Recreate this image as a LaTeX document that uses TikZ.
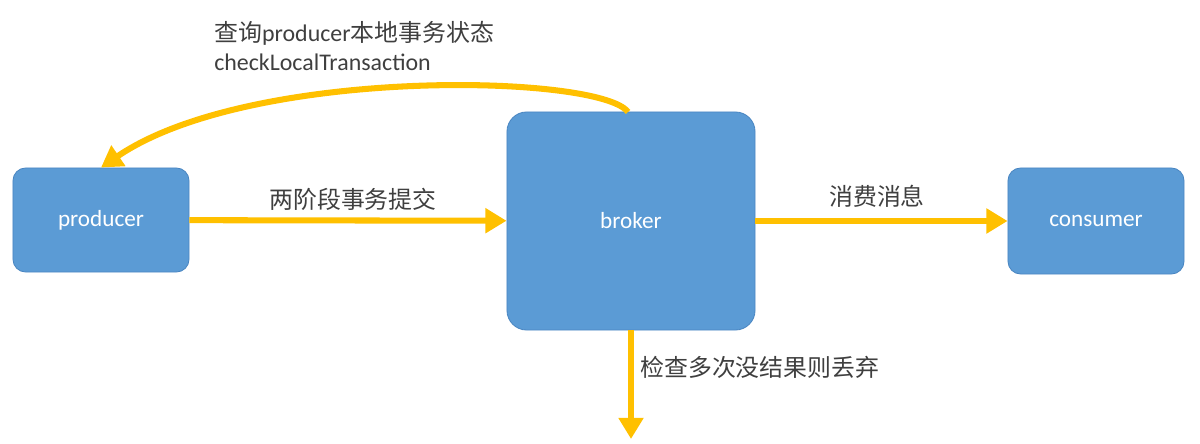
\documentclass[tikz,border=0pt]{standalone}
\usepackage{fontspec}
\setmainfont{Carlito}
\newfontfamily\cjk{Noto Sans CJK SC}
\usetikzlibrary{arrows.meta,positioning}

\definecolor{boxblue}{HTML}{5B9BD5}
\definecolor{boxedge}{HTML}{4A86C2}
\definecolor{flowyellow}{HTML}{FFC000}
\definecolor{labelgray}{HTML}{3F3F3F}

\begin{document}
\begin{tikzpicture}[x=0.025cm, y=-0.025cm,
    box/.style={draw=boxedge, line width=0.6pt, fill=boxblue, rounded corners=9pt,
      text=white, font=\fontsize{16.5}{19}\selectfont},
    flow/.style={flowyellow, line width=4.3pt,
      -{Triangle[length=15pt, width=17pt]}},
    lbl/.style={text=labelgray, font=\fontsize{17}{20}\selectfont, inner sep=0pt}]
    \useasboundingbox (0,0) rectangle (1200,444);

    % Boxes
    \node[box, minimum width=4.4cm, minimum height=2.6cm] (producer) at (101,220) {producer};
    \node[box, minimum width=6.2cm, minimum height=5.45cm, rounded corners=14pt] (broker) at (631,221) {broker};
    \node[box, minimum width=4.4cm, minimum height=2.65cm] (consumer) at (1096,221) {consumer};
    \coordinate (drop) at (631,439);
    \coordinate (brokertop) at (628,112);

    % Connectors
    \draw[flow] (producer) -- (broker);
    \draw[flow] (broker) -- (consumer);
    \draw[flow] (broker.south) -- (drop);
    \draw[flow] (brokertop) .. controls (600,74) and (250,66) .. (producer.north);

    % Labels
    \node[lbl] (commit) at (353,199) {\cjk 两阶段事务提交};
    \node[lbl] (consume) at (877,196) {\cjk 消费消息};
    \node[lbl, anchor=west] (discard) at (640,367) {\cjk 检查多次没结果则丢弃};
    \node[lbl, anchor=west] (query) at (214,33) {{\cjk 查询}producer{\cjk 本地事务状态}};
    \node[lbl, anchor=west] (check) at (214,62) {checkLocalTransaction};
\end{tikzpicture}
\end{document}
